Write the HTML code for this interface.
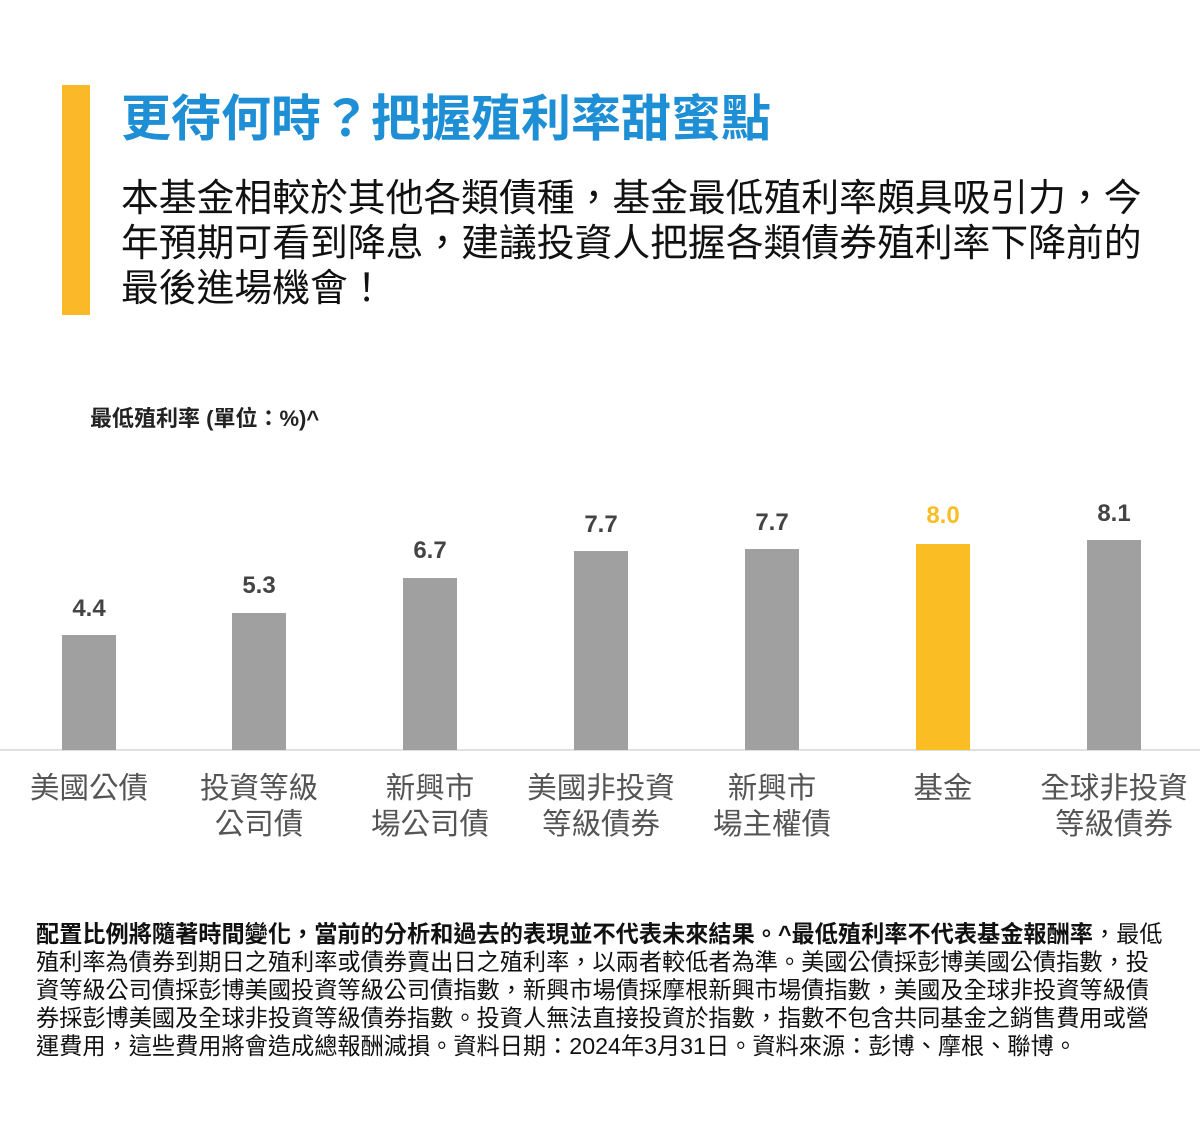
<!DOCTYPE html>
<html><head><meta charset="utf-8"><style>
body{margin:0;width:1200px;height:1148px;background:#fff;position:relative;overflow:hidden;font-family:"Liberation Sans","Noto Sans CJK TC",sans-serif}
.a{position:absolute;white-space:nowrap}
.bar{position:absolute;width:54px;background:#a0a0a0}
.v{position:absolute;width:120px;text-align:center;font-weight:bold;font-size:24px;color:#444}
.c{position:absolute;width:180px;text-align:center;font-size:29.5px;color:#555;line-height:36px}
.f{position:absolute;left:36px;font-size:23.2px;color:#111;white-space:nowrap;line-height:28px}
</style></head><body>
<div class="a" style="left:62px;top:85px;width:28px;height:230px;background:#fbb829"></div>
<div class="a" style="left:121px;top:88px;font-size:50px;font-weight:bold;color:#1e8fd5;line-height:62px">更待何時？把握殖利率甜蜜點</div>
<div class="a" style="left:121px;top:177px;font-size:37.8px;color:#111;line-height:45px">本基金相較於其他各類債種，基金最低殖利率頗具吸引力，今<br>年預期可看到降息，建議投資人把握各類債券殖利率下降前的<br>最後進場機會！</div>
<div class="a" style="left:90px;top:401px;font-size:22px;font-weight:bold;color:#222">最低殖利率 (單位：%)^</div>
<div class="a" style="left:0;top:749px;width:1200px;height:2px;background:#e0e0e0"></div>
<div class="bar" style="left:62px;top:635px;height:115px"></div>
<div class="bar" style="left:232px;top:613px;height:137px"></div>
<div class="bar" style="left:403px;top:578px;height:172px"></div>
<div class="bar" style="left:574px;top:551px;height:199px"></div>
<div class="bar" style="left:745px;top:549px;height:201px"></div>
<div class="bar" style="left:916px;top:544px;height:206px;background:#fbbd24"></div>
<div class="bar" style="left:1087px;top:540px;height:210px"></div>
<div class="v" style="left:29px;top:595px">4.4</div>
<div class="v" style="left:199px;top:572px">5.3</div>
<div class="v" style="left:370px;top:537px">6.7</div>
<div class="v" style="left:541px;top:511px">7.7</div>
<div class="v" style="left:712px;top:509px">7.7</div>
<div class="v" style="left:883px;top:502px;color:#fbbd24">8.0</div>
<div class="v" style="left:1054px;top:500px">8.1</div>
<div class="c" style="left:-1px;top:771px">美國公債</div>
<div class="c" style="left:169px;top:771px">投資等級<br>公司債</div>
<div class="c" style="left:340px;top:771px">新興市<br>場公司債</div>
<div class="c" style="left:511px;top:771px">美國非投資<br>等級債券</div>
<div class="c" style="left:682px;top:771px">新興市<br>場主權債</div>
<div class="c" style="left:853px;top:771px">基金</div>
<div class="c" style="left:1024px;top:771px">全球非投資<br>等級債券</div>
<div class="f" style="top:920px"><b>配置比例將隨著時間變化，當前的分析和過去的表現並不代表未來結果。^最低殖利率不代表基金報酬率</b>，最低</div>
<div class="f" style="top:948px">殖利率為債券到期日之殖利率或債券賣出日之殖利率，以兩者較低者為準。美國公債採彭博美國公債指數，投</div>
<div class="f" style="top:976px">資等級公司債採彭博美國投資等級公司債指數，新興市場債採摩根新興市場債指數，美國及全球非投資等級債</div>
<div class="f" style="top:1004px">券採彭博美國及全球非投資等級債券指數。投資人無法直接投資於指數，指數不包含共同基金之銷售費用或營</div>
<div class="f" style="top:1032px">運費用，這些費用將會造成總報酬減損。資料日期：2024年3月31日。資料來源：彭博、摩根、聯博。</div>
</body></html>
